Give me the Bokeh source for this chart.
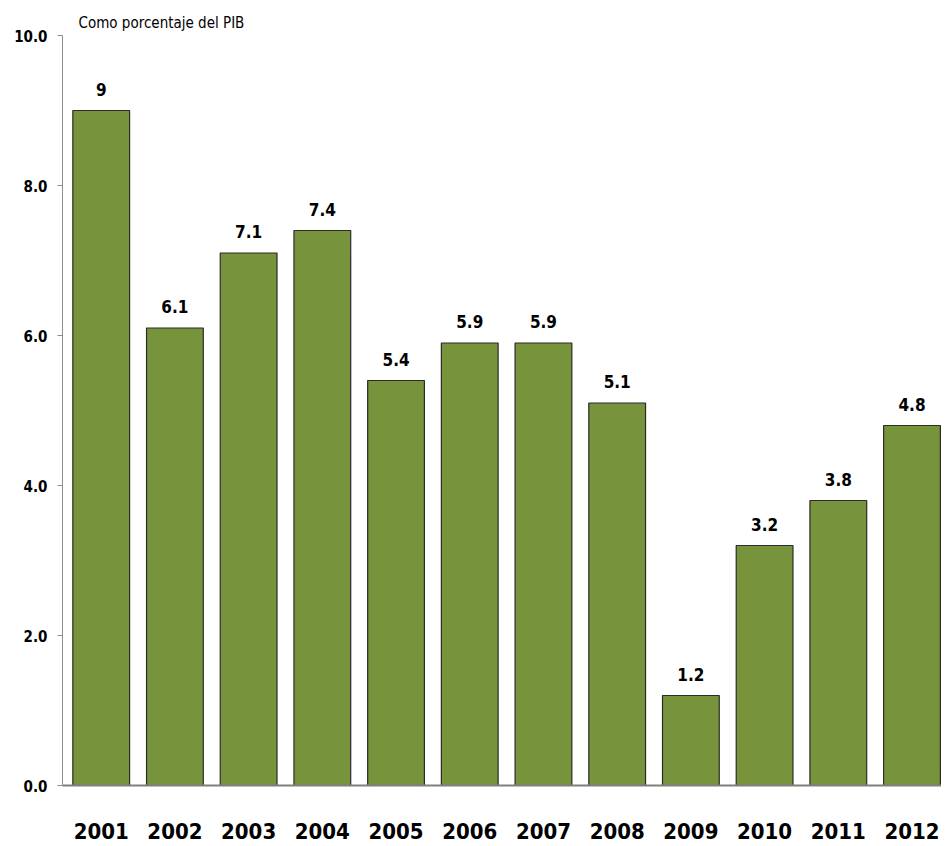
from bokeh.plotting import figure
from bokeh.models import ColumnDataSource, Range1d, FixedTicker, CustomJSTickFormatter, NumeralTickFormatter
from bokeh.core.properties import value
from bokeh.embed import file_html
from bokeh.resources import INLINE

years = [2001, 2002, 2003, 2004, 2005, 2006, 2007, 2008, 2009, 2010, 2011, 2012]
values = [9.0, 6.1, 7.1, 7.4, 5.4, 5.9, 5.9, 5.1, 1.2, 3.2, 3.8, 4.8]
labels = ["{:g}".format(v) for v in values]
y_ticks = [0, 2, 4, 6, 8, 10]

FONT = "'DejaVu Sans Condensed', 'Liberation Sans Narrow', Roboto, sans-serif"

src = ColumnDataSource(dict(x=years, top=values, label=labels))

p = figure(width=941, height=846, output_backend="svg", toolbar_location=None,
           x_range=Range1d(2000.475, 2012.4), y_range=Range1d(0, 10),
           title="Como porcentaje del PIB",
           min_border_left=62, min_border_right=0, min_border_top=35, min_border_bottom=61)
p.outline_line_color = None
p.xgrid.grid_line_color = None
p.ygrid.grid_line_color = None

p.title.align = "left"
p.title.offset = 16
p.title.standoff = 8
p.title.text_font = FONT
p.title.text_font_style = "normal"
p.title.text_font_size = "15px"
p.title.text_color = "#000000"

p.vbar(x="x", top="top", bottom=0, width=0.77, source=src,
       fill_color="#77933C", line_color="#2b2b2b", line_width=1.2)

p.text(x="x", y="top", text="label", source=src, text_align="center", text_baseline="bottom",
       y_offset=-15, text_font=value(FONT), text_font_style="bold", text_font_size="17px",
       text_color="#000000")

p.xaxis.ticker = FixedTicker(ticks=years)
p.xaxis.formatter = CustomJSTickFormatter(code="return String(Math.round(tick));")
p.xaxis.major_tick_line_color = None
p.xaxis.minor_tick_line_color = None
p.xaxis.axis_line_color = "#7f7f7f"
p.xaxis.axis_line_width = 2
p.xaxis.major_label_text_font = FONT
p.xaxis.major_label_text_font_style = "bold"
p.xaxis.major_label_text_font_size = "22px"
p.xaxis.major_label_text_color = "#000000"
p.xaxis.major_label_standoff = 31

p.yaxis.ticker = FixedTicker(ticks=y_ticks)
p.yaxis.formatter = NumeralTickFormatter(format="0.0")
p.yaxis.minor_tick_line_color = None
p.yaxis.axis_line_color = "#8c8c8c"
p.yaxis.major_tick_line_color = "#8c8c8c"
p.yaxis.major_tick_out = 5
p.yaxis.major_tick_in = 0
p.yaxis.major_label_text_font = FONT
p.yaxis.major_label_text_font_style = "bold"
p.yaxis.major_label_text_font_size = "15px"
p.yaxis.major_label_text_color = "#000000"
p.yaxis.major_label_standoff = 10

open("out.html", "w").write(file_html(p, INLINE))
